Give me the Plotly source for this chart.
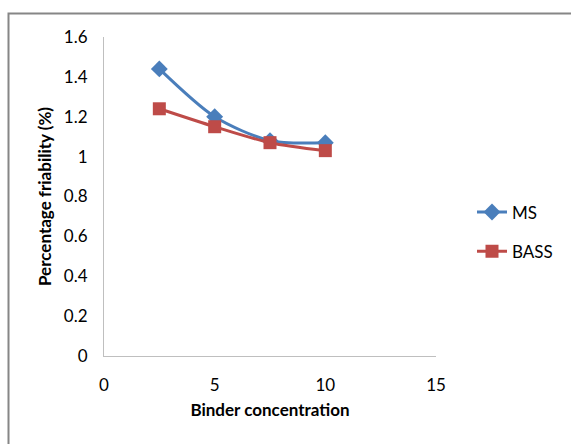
import plotly.graph_objects as go

x_vals = [2.5, 5, 7.5, 10]
ms_vals = [1.44, 1.20, 1.08, 1.07]
bass_vals = [1.24, 1.15, 1.07, 1.03]
series_names = ["MS", "BASS"]

W, H = 571, 444
L, R, T, B = 104, 571 - 436, 37, 444 - 356
pw, ph = W - L - R, H - T - B

font_family = "Lato, 'Open Sans', sans-serif"

fig = go.Figure()
fig.add_trace(go.Scatter(
    x=x_vals, y=ms_vals, name=series_names[0], mode="lines+markers",
    line=dict(color="#4A7EBB", width=3, shape="spline", smoothing=0.8),
    marker=dict(symbol="diamond", size=13, color="#4A7EBB"),
    legendgroup="a",
))
fig.add_trace(go.Scatter(
    x=x_vals, y=bass_vals, name=series_names[1], mode="lines+markers",
    line=dict(color="#BE4B48", width=3, shape="spline", smoothing=0.8),
    marker=dict(symbol="square", size=13, color="#BE4B48"),
    legendgroup="b",
))

def px_x(p):
    return (p - L) / pw

def px_y(p):
    return (H - B - p) / ph

fig.add_shape(type="rect", xref="paper", yref="paper",
              x0=px_x(8.5), x1=px_x(580), y0=px_y(13.5), y1=px_y(460),
              line=dict(color="#868686", width=2), fillcolor="rgba(0,0,0,0)",
              layer="below")

fig.update_layout(
    width=W, height=H,
    margin=dict(l=L, r=R, t=T, b=B),
    paper_bgcolor="white", plot_bgcolor="white",
    font=dict(family=font_family, size=17, color="#000000"),
    showlegend=True,
    legend=dict(x=px_x(472), y=px_y(232), xanchor="left", yanchor="middle",
                font=dict(size=17), traceorder="grouped", tracegroupgap=14,
                itemwidth=30, bgcolor="rgba(0,0,0,0)"),
    xaxis=dict(range=[0, 15], tickvals=[0, 5, 10, 15], showgrid=False, zeroline=False,
               showline=True, linecolor="#BFBFBF", linewidth=1, ticks="",
               ticklabelstandoff=14, tickfont=dict(size=17),
               title=dict(text="<b>Binder concentration</b>", font=dict(size=17), standoff=9)),
    yaxis=dict(range=[0, 1.6], tickvals=[0, 0.2, 0.4, 0.6, 0.8, 1, 1.2, 1.4, 1.6],
               ticktext=["0", "0.2", "0.4", "0.6", "0.8", "1", "1.2", "1.4", "1.6"],
               showgrid=False, zeroline=False, showline=True, linecolor="#BFBFBF",
               linewidth=1, ticks="", ticklabelstandoff=12, tickfont=dict(size=17),
               title=dict(text="<b>Percentage friability (%)</b>", font=dict(size=17), standoff=7)),
)

fig.write_html("out.html")
